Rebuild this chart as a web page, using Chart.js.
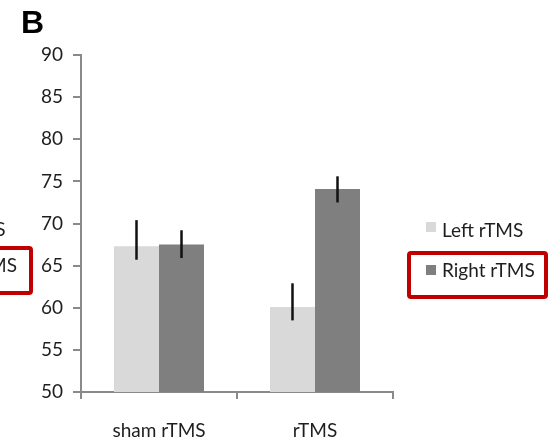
<!DOCTYPE html>
<html>
<head>
<meta charset="utf-8">
<script src="https://cdn.jsdelivr.net/npm/chart.js@4.4.1/dist/chart.umd.min.js"></script>
<style>
  html, body { margin: 0; padding: 0; background: #fff; }
  #wrap { width: 554px; height: 445px; position: relative; }
</style>
</head>
<body>
<div id="wrap"><canvas id="c" width="554" height="445"></canvas></div>
<script>
// Groups and series
const categories = ['sham rTMS', 'rTMS'];
const seriesNames = ['Left rTMS', 'Right rTMS'];
const leftValues = [67.3, 60.1];
const rightValues = [67.5, 74.1];
// Error bar extents [low, high] per group
const leftErrors = [[65.7, 70.4], [58.5, 62.9]];
const rightErrors = [[65.9, 69.2], [72.5, 75.6]];
// Value axis
const yMin = 50, yMax = 90, yStep = 5;

const FONT = 'Lato, "Open Sans", sans-serif';
const axisGray = '#8a8a8a';
const textColor = '#1e1e1e';
const boxRed = '#c00000';

const errorBars = {
  id: 'errorBars',
  afterDatasetsDraw(chart) {
    const ctx = chart.ctx;
    const y = chart.scales.y;
    const errs = [leftErrors, rightErrors];
    ctx.save();
    ctx.strokeStyle = '#111';
    ctx.lineWidth = 2.5;
    chart.data.datasets.forEach((ds, di) => {
      chart.getDatasetMeta(di).data.forEach((bar, i) => {
        const [lo, hi] = errs[di][i];
        ctx.beginPath();
        ctx.moveTo(bar.x, y.getPixelForValue(lo));
        ctx.lineTo(bar.x, y.getPixelForValue(hi));
        ctx.stroke();
      });
    });
    ctx.restore();
  }
};

function roundRect(ctx, x, y, w, h, r) {
  ctx.beginPath();
  ctx.moveTo(x + r, y);
  ctx.lineTo(x + w - r, y);
  ctx.quadraticCurveTo(x + w, y, x + w, y + r);
  ctx.lineTo(x + w, y + h - r);
  ctx.quadraticCurveTo(x + w, y + h, x + w - r, y + h);
  ctx.lineTo(x + r, y + h);
  ctx.quadraticCurveTo(x, y + h, x, y + h - r);
  ctx.lineTo(x, y + r);
  ctx.quadraticCurveTo(x, y, x + r, y);
  ctx.closePath();
}

// Legend, panel letter and the neighbouring panel's clipped legend
const decorations = {
  id: 'decorations',
  afterDraw(chart) {
    const ctx = chart.ctx;
    const ds = chart.data.datasets;
    ctx.save();
    ctx.font = '19px ' + FONT;
    ctx.textBaseline = 'alphabetic';
    ctx.fillStyle = textColor;

    // legend on the right
    const items = [
      { label: ds[0].label, color: ds[0].backgroundColor, sq: 222, base: 237 },
      { label: ds[1].label, color: ds[1].backgroundColor, sq: 265, base: 277 }
    ];
    items.forEach(it => {
      ctx.fillStyle = it.color;
      ctx.fillRect(426, it.sq, 10, 10);
      ctx.fillStyle = textColor;
      ctx.fillText(it.label, 442, it.base);
    });
    ctx.strokeStyle = boxRed;
    ctx.lineWidth = 4;
    roundRect(ctx, 409, 253, 137, 44, 2);
    ctx.stroke();

    // clipped legend from the panel to the left
    const endX = 17;
    const wRight = ctx.measureText(seriesNames[1]).width;
    const x0 = endX - wRight;
    ctx.fillStyle = textColor;
    ctx.fillText(seriesNames[0], x0, 236);
    ctx.fillText(seriesNames[1], x0, 272);
    ctx.strokeStyle = boxRed;
    roundRect(ctx, -60, 248, 91, 45, 2);
    ctx.stroke();

    // panel letter
    ctx.font = 'bold 32px "Liberation Sans", Arial, sans-serif';
    ctx.fillStyle = '#000';
    ctx.fillText('B', 21, 33);
    ctx.restore();
  }
};

new Chart(document.getElementById('c'), {
  type: 'bar',
  data: {
    labels: categories,
    datasets: [
      { label: seriesNames[0], data: leftValues, backgroundColor: '#d9d9d9' },
      { label: seriesNames[1], data: rightValues, backgroundColor: '#7f7f7f' }
    ]
  },
  options: {
    responsive: false,
    animation: false,
    events: [],
    layout: { padding: { top: 55, right: 161, bottom: 0, left: 0 } },
    datasets: { bar: { categoryPercentage: 0.577, barPercentage: 1.0 } },
    plugins: { legend: { display: false }, tooltip: { enabled: false } },
    scales: {
      x: {
        grid: { display: true, drawOnChartArea: false, drawTicks: true, tickLength: 7,
                color: axisGray, lineWidth: 2, offset: true },
        border: { display: true, color: axisGray, width: 2 },
        ticks: { color: textColor, font: { family: FONT, size: 19 }, padding: 20 },
        afterFit(scale) { scale.height = 53; }
      },
      y: {
        min: yMin, max: yMax,
        grid: { display: true, drawOnChartArea: false, drawTicks: true, tickLength: 8,
                color: axisGray, lineWidth: 2 },
        border: { display: true, color: axisGray, width: 2 },
        ticks: { stepSize: yStep, color: textColor, font: { family: FONT, size: 19 }, padding: 10 },
        afterFit(scale) { scale.width = 81; }
      }
    }
  },
  plugins: [errorBars, decorations]
});
</script>
</body>
</html>
